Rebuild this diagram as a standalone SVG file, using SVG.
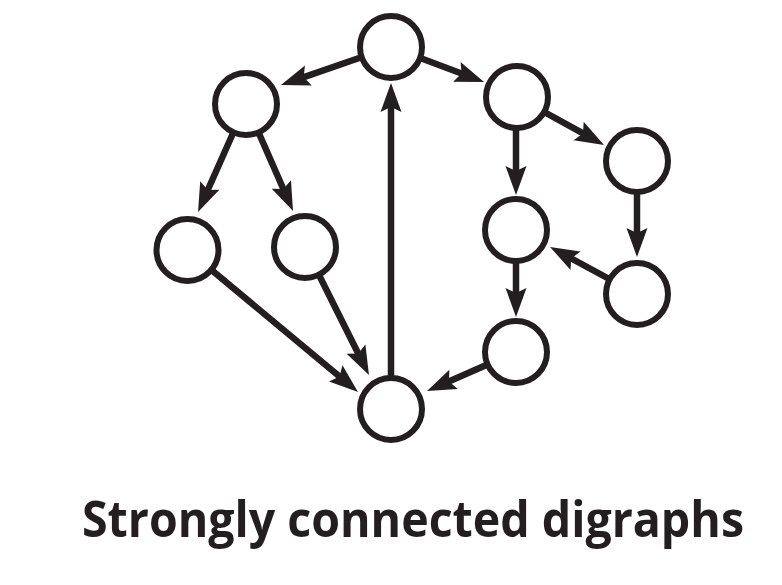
<svg xmlns="http://www.w3.org/2000/svg" width="782" height="585" viewBox="0 0 782 585">
<style>
.edge{stroke:#231f20;stroke-width:6.5;fill:none;marker-end:url(#arr)}
.node circle{fill:#fff;stroke:#231f20;stroke-width:6}
.title{font-family:"Open Sans","Noto Sans","Liberation Sans",sans-serif;font-weight:700;font-size:50px;fill:#231f20}
</style>
<defs>
<marker id="arr" markerUnits="userSpaceOnUse" markerWidth="40" markerHeight="40" refX="0" refY="0" orient="auto" overflow="visible">
<path d="M12,0 L-17,-10.5 L-12,0 L-17,10.5 Z" fill="#231f20"/>
</marker>
</defs>
<rect width="782" height="585" fill="#fff"/>
<g id="edges">
<line class="edge" x1="391" y1="47" x2="292.3" y2="81.1"/>
<line class="edge" x1="391" y1="47" x2="472.8" y2="77.8"/>
<line class="edge" x1="391" y1="409" x2="391" y2="95"/>
<line class="edge" x1="246" y1="104" x2="202.9" y2="201"/>
<line class="edge" x1="246" y1="104" x2="288.2" y2="200"/>
<line class="edge" x1="187.5" y1="250" x2="348.8" y2="384.3"/>
<line class="edge" x1="305" y1="247" x2="363.6" y2="364.3"/>
<line class="edge" x1="516" y1="97" x2="516" y2="183"/>
<line class="edge" x1="517" y1="97" x2="593.5" y2="139.2"/>
<line class="edge" x1="637" y1="161" x2="637" y2="245"/>
<line class="edge" x1="637" y1="294" x2="560.6" y2="252.7"/>
<line class="edge" x1="516" y1="230" x2="516" y2="305"/>
<line class="edge" x1="516" y1="352" x2="438" y2="386.2"/>
</g>
<g id="n-top" class="node"><circle cx="391" cy="47" r="31"/></g>
<g id="n-ul" class="node"><circle cx="246" cy="104" r="31"/></g>
<g id="n-left" class="node"><circle cx="187.5" cy="250" r="31"/></g>
<g id="n-midleft" class="node"><circle cx="305" cy="247" r="31"/></g>
<g id="n-bottom" class="node"><circle cx="391" cy="409" r="31"/></g>
<g id="n-rt" class="node"><circle cx="517" cy="97" r="31"/></g>
<g id="n-frt" class="node"><circle cx="637" cy="161" r="31"/></g>
<g id="n-rm" class="node"><circle cx="516" cy="230" r="31"/></g>
<g id="n-frb" class="node"><circle cx="637" cy="294" r="31"/></g>
<g id="n-rb" class="node"><circle cx="516" cy="352" r="31"/></g>
<text class="title" x="413" y="537" text-anchor="middle" textLength="662" lengthAdjust="spacingAndGlyphs">Strongly connected digraphs</text>
</svg>
